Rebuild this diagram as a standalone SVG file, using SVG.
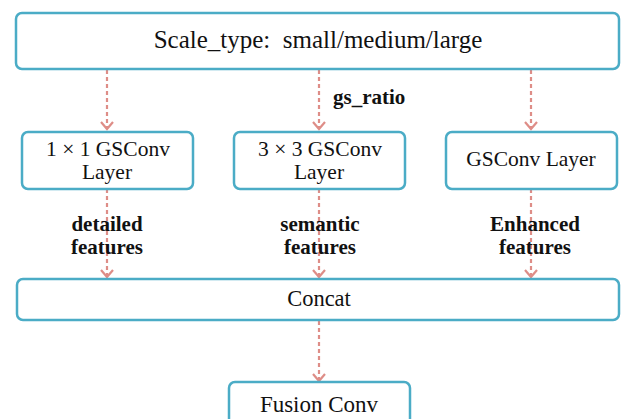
<svg xmlns="http://www.w3.org/2000/svg" width="621" height="419" viewBox="0 0 621 419">
<defs>
<style>
.box{fill:#fff;stroke:#4BACC6;stroke-width:2.5}
text{font-family:'Liberation Serif','DejaVu Serif',serif;fill:#111;text-anchor:middle;white-space:pre}
.t{font-size:21.5px}
.b{font-size:21px;font-weight:bold}
.c{stroke:#DE8D87;stroke-width:2.2;stroke-dasharray:4,3;fill:none}
.h{stroke:#DE8D87;stroke-width:2.2;fill:none}
</style>
</defs>
<rect width="621" height="419" fill="#fff"/>
<g id="connectors">
<path class="c" d="M107 70V128"/><path class="h" d="M101 122L107 129L113 122"/>
<path class="c" d="M319 70V128"/><path class="h" d="M313 122L319 129L325 122"/>
<path class="c" d="M531 70V128"/><path class="h" d="M525 122L531 129L537 122"/>
<path class="c" d="M107 189V276"/><path class="h" d="M101 270L107 277L113 270"/>
<path class="c" d="M319 189V276"/><path class="h" d="M313 270L319 277L325 270"/>
<path class="c" d="M531 189V276"/><path class="h" d="M525 270L531 277L537 270"/>
<path class="c" d="M319 321V380"/><path class="h" d="M313 374L319 381L325 374"/>
<text class="b" x="333" y="104" style="text-anchor:start">gs_ratio</text>
<text class="b" x="107" y="231">detailed</text>
<text class="b" x="107" y="254">features</text>
<text class="b" x="320" y="231">semantic</text>
<text class="b" x="320" y="254">features</text>
<text class="b" x="535" y="231">Enhanced</text>
<text class="b" x="535" y="254">features</text>
</g>
<g id="scale">
<rect class="box" x="16" y="13" width="603" height="56" rx="6"/>
<text x="318" y="48" style="font-size:25px" xml:space="preserve">Scale_type:  small/medium/large</text>
</g>
<g id="gs1">
<rect class="box" x="22" y="132" width="171" height="57" rx="6"/>
<text class="t" x="108" y="156">1 × 1 GSConv</text>
<text class="t" x="107" y="179">Layer</text>
</g>
<g id="gs3">
<rect class="box" x="234" y="132" width="171" height="57" rx="6"/>
<text class="t" x="320" y="156">3 × 3 GSConv</text>
<text class="t" x="319" y="179">Layer</text>
</g>
<g id="gsl">
<rect class="box" x="446" y="132" width="171" height="57" rx="6"/>
<text class="t" x="531" y="166">GSConv Layer</text>
</g>
<g id="concat">
<rect class="box" x="17" y="279" width="602" height="41" rx="6"/>
<text x="319" y="306" style="font-size:22.5px">Concat</text>
</g>
<g id="fusion">
<rect class="box" x="229" y="382" width="181" height="50" rx="6"/>
<text x="319" y="412" style="font-size:23px">Fusion Conv</text>
</g>
</svg>
